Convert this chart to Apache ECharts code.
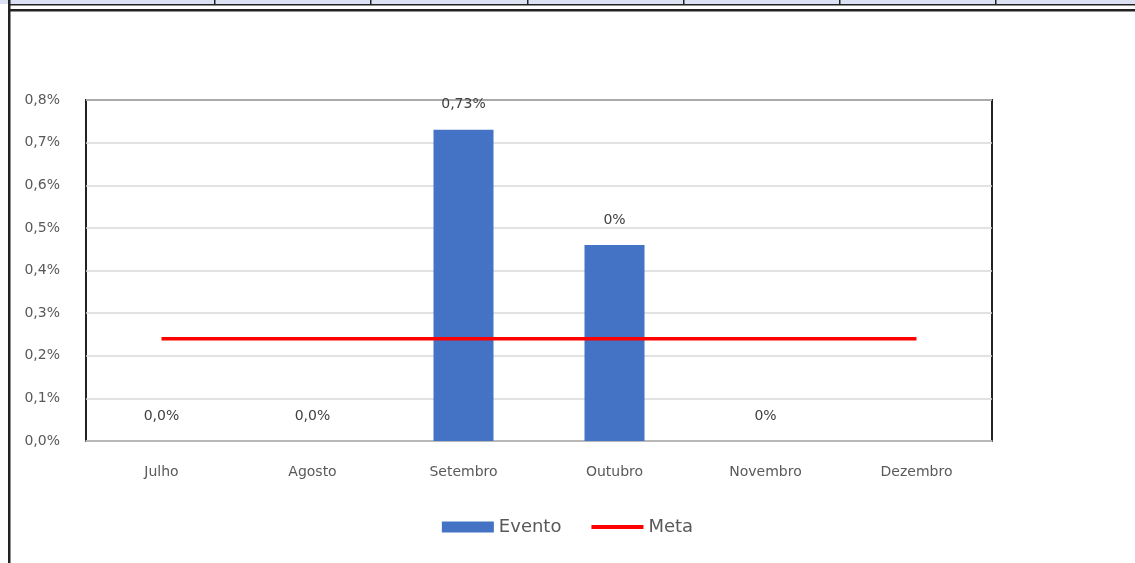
<!DOCTYPE html>
<html>
<head>
<meta charset="utf-8">
<script src="https://cdn.jsdelivr.net/npm/echarts@6/dist/echarts.min.js"></script>
<style>
  html, body { margin: 0; padding: 0; background: #fff; }
  #main { width: 1135px; height: 563px; }
</style>
</head>
<body>
<div id="main"></div>
<script>
// chart data
var months = ['Julho', 'Agosto', 'Setembro', 'Outubro', 'Novembro', 'Dezembro'];
var evento = [0, 0, 0.73, 0.46, 0, 0];
var eventoLabels = ['0,0%', '0,0%', '0,73%', '0%', '0%', ''];
var meta = [0.24, 0.24, 0.24, 0.24, 0.24, 0.24];

var textColor = '#595959';
var font = 'DejaVu Sans';

function drawChart() {
    var myChart = echarts.init(document.getElementById('main'));

    // sheet cell borders around the chart
    var dividers = [214, 370, 527, 683, 839, 995];
    var graphics = [
        { type: 'rect', shape: { x: 0, y: 0, width: 1135, height: 4 }, style: { fill: '#d9e1f2' } },
        { type: 'rect', shape: { x: 8, y: 4, width: 1127, height: 1.5 }, style: { fill: '#222' } },
        { type: 'rect', shape: { x: 8, y: 9, width: 1127, height: 2.5 }, style: { fill: '#222' } },
        { type: 'rect', shape: { x: 8, y: 0, width: 2.5, height: 563 }, style: { fill: '#222' } }
    ];
    for (var i = 0; i < dividers.length; i++) {
        graphics.push({ type: 'rect', shape: { x: dividers[i], y: 0, width: 1.5, height: 5 }, style: { fill: '#222' } });
    }

    var option = {
        animation: false,
        textStyle: { fontFamily: font },
        graphic: graphics,
        grid: {
            left: 86,
            right: 143,
            top: 100,
            bottom: 122,
            show: true,
            borderColor: '#222',
            borderWidth: 2,
            containLabel: false
        },
        legend: {
            bottom: 22,
            left: 'center',
            itemWidth: 52,
            itemHeight: 11,
            itemGap: 30,
            textStyle: { color: textColor, fontSize: 18, fontFamily: font },
            data: [
                { name: 'Evento', icon: 'rect' },
                { name: 'Meta', icon: 'path://M0,0 H52 V4 H0 Z' }
            ]
        },
        xAxis: {
            type: 'category',
            data: months,
            axisLine: { show: true, lineStyle: { color: '#bfbfbf', width: 1.5 } },
            axisTick: { show: false },
            axisLabel: { color: textColor, fontSize: 14, margin: 24 }
        },
        yAxis: {
            type: 'value',
            min: 0,
            max: 0.8,
            interval: 0.1,
            axisLine: { show: false },
            axisTick: { show: false },
            splitLine: { show: true, lineStyle: { color: '#d9d9d9', width: 1.5 } },
            axisLabel: {
                color: textColor,
                fontSize: 14,
                margin: 26,
                formatter: function (v) {
                    return v.toFixed(1).replace('.', ',') + '%';
                }
            }
        },
        series: [
            {
                name: 'Evento',
                type: 'bar',
                barWidth: 60,
                itemStyle: { color: '#4472c4' },
                label: {
                    show: true,
                    position: 'top',
                    distance: 18,
                    color: '#404040',
                    fontSize: 14,
                    formatter: function (p) { return eventoLabels[p.dataIndex]; }
                },
                data: evento,
                z: 2
            },
            {
                name: 'Meta',
                type: 'line',
                symbol: 'none',
                lineStyle: { color: '#ff0000', width: 3.5 },
                itemStyle: { color: '#ff0000' },
                data: meta,
                z: 3
            }
        ]
    };
    myChart.setOption(option);
}

drawChart();
</script>
</body>
</html>
